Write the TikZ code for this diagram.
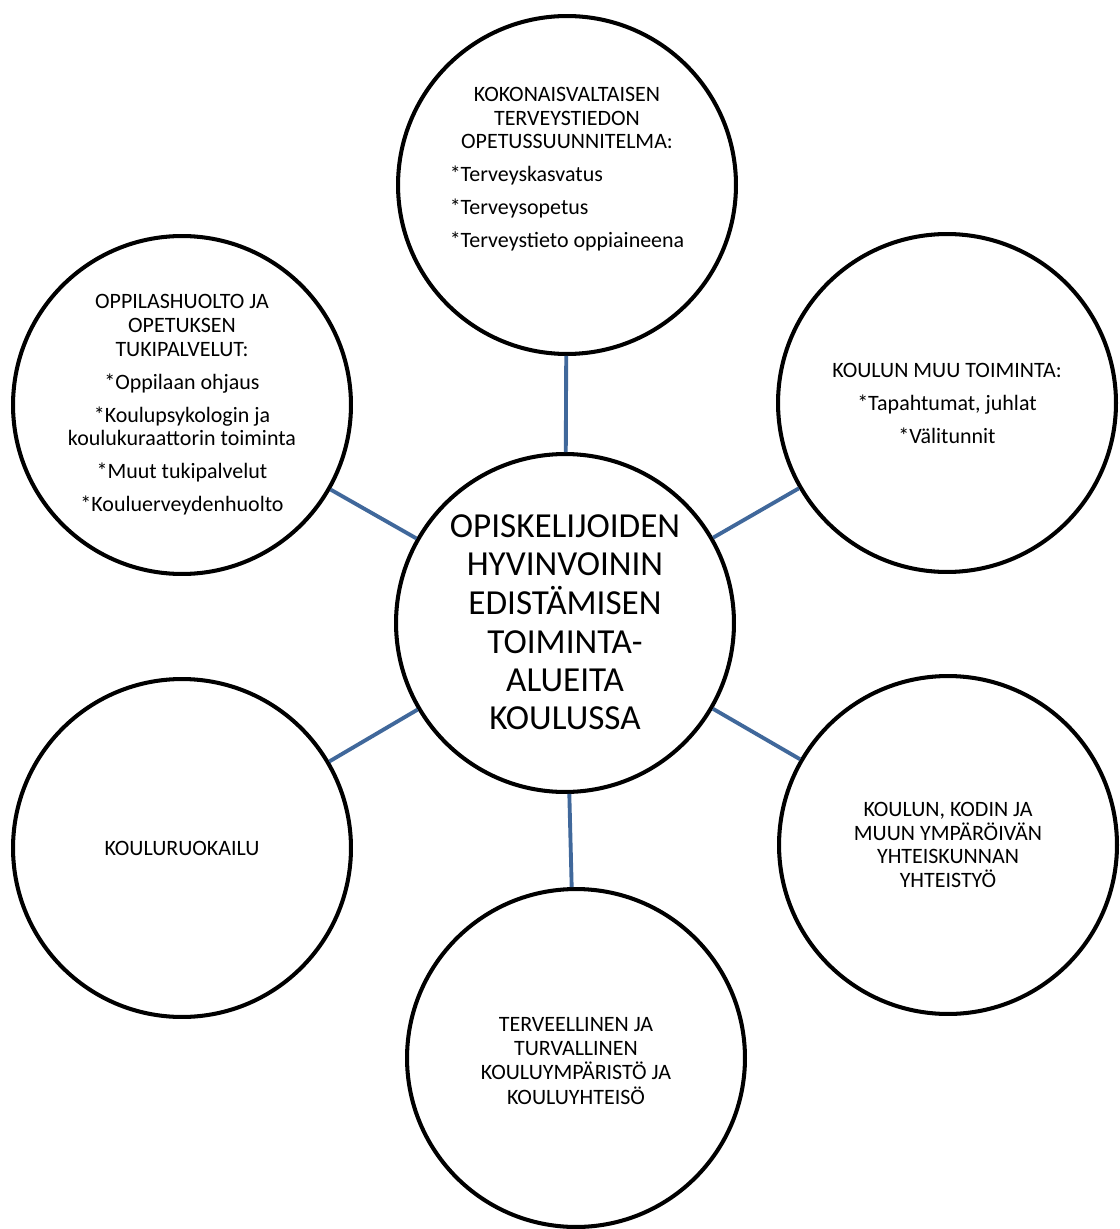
\documentclass[tikz,border=0pt]{standalone}
\usepackage{fontspec}
\setmainfont{Carlito}
\definecolor{linkblue}{RGB}{64,104,155}
\tikzset{
  areacircle/.style={circle, draw=black, line width=2.3pt, minimum size=6.76cm,
    inner sep=0pt, align=center, font=\fontsize{12.5}{13.4}\selectfont},
  maincircle/.style={areacircle, font=\fontsize{20}{21.7}\selectfont},
  link/.style={draw=linkblue, line width=2.2pt}
}
\begin{document}
\begin{tikzpicture}[x=0.02cm,y=-0.02cm]
\useasboundingbox (0,0) rectangle (1119,1229);
% centre
\node[maincircle] (hub) at (565,623) {\raisebox{-1.5pt}[\height][\depth]{\begin{tabular}{@{}c@{}}OPISKELIJOIDEN\\HYVINVOININ\\EDISTÄMISEN\\TOIMINTA-\\ALUEITA\\KOULUSSA\end{tabular}}};
% areas round it
\node[areacircle] (curriculum) at (567,185) {\raisebox{8.5pt}[\height][\depth]{\begin{tabular}{@{}c@{}}KOKONAISVALTAISEN\\TERVEYSTIEDON\\OPETUSSUUNNITELMA:\\[5.4pt]
  \begin{tabular}[t]{@{}l@{}}*Terveyskasvatus\\[5.4pt]*Terveysopetus\\[5.4pt]*Terveystieto oppiaineena\end{tabular}\end{tabular}}};
\node[areacircle] (support) at (182,405) {OPPILASHUOLTO JA\\OPETUKSEN\\TUKIPALVELUT:\\[5.4pt]*Oppilaan ohjaus\\[5.4pt]*Koulupsykologin ja\\koulukuraattorin toiminta\\[5.4pt]*Muut tukipalvelut\\[5.4pt]*Kouluerveydenhuolto};
\node[areacircle] (activities) at (947,403) {KOULUN MUU TOIMINTA:\\[5.4pt]*Tapahtumat, juhlat\\[5.4pt]*Välitunnit};
\node[areacircle] (catering) at (182,848) {KOULURUOKAILU};
\node[areacircle] (cooperation) at (948,845) {KOULUN, KODIN JA\\MUUN YMPÄRÖIVÄN\\YHTEISKUNNAN\\YHTEISTYÖ};
\node[areacircle] (environment) at (576,1058) {\raisebox{-3pt}[\height][\depth]{\begin{tabular}{@{}c@{}}TERVEELLINEN JA\\TURVALLINEN\\KOULUYMPÄRISTÖ JA\\KOULUYHTEISÖ\end{tabular}}};
% connectors
\draw[link] (curriculum) -- (hub);
\draw[link] (support) -- (hub);
\draw[link] (activities) -- (hub);
\draw[link] (catering) -- (hub);
\draw[link] (cooperation) -- (hub);
\draw[link] (environment) -- (hub);
\end{tikzpicture}
\end{document}
